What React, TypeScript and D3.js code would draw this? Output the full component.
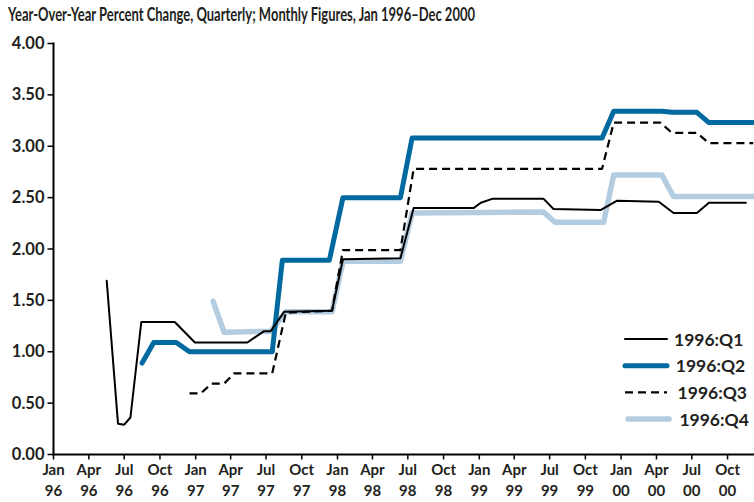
import { scaleTime, scaleLinear, line, timeParse, timeFormat, timeMonth } from "d3";

const width = 754;
const height = 502;
const x0 = 53.5;
const yTop = 43.5;
const yBottom = 454.5;

const titleText =
  "Year-Over-Year Percent Change, Quarterly; Monthly Figures, Jan 1996\u2013Dec 2000";

const yTickValues = [0, 0.5, 1, 1.5, 2, 2.5, 3, 3.5, 4];

// [date, percent]
const q1: [string, number][] = [
  ["1996-05-17", 1.69],
  ["1996-06-15", 0.3],
  ["1996-07-01", 0.29],
  ["1996-07-17", 0.36],
  ["1996-08-14", 1.29],
  ["1996-11-08", 1.29],
  ["1996-12-30", 1.09],
  ["1997-05-14", 1.09],
  ["1997-06-10", 1.16],
  ["1997-06-26", 1.2],
  ["1997-07-13", 1.2],
  ["1997-08-17", 1.39],
  ["1997-12-18", 1.4],
  ["1998-01-15", 1.9],
  ["1998-06-12", 1.91],
  ["1998-07-16", 2.4],
  ["1998-12-18", 2.4],
  ["1999-01-05", 2.45],
  ["1999-02-05", 2.49],
  ["1999-06-15", 2.49],
  ["1999-07-11", 2.39],
  ["1999-11-10", 2.38],
  ["1999-12-22", 2.47],
  ["2000-04-07", 2.46],
  ["2000-05-15", 2.35],
  ["2000-07-14", 2.35],
  ["2000-08-14", 2.45],
  ["2000-11-17", 2.45],
];

const q2: [string, number][] = [
  ["1996-08-16", 0.89],
  ["1996-09-15", 1.09],
  ["1996-11-12", 1.09],
  ["1996-12-16", 1.0],
  ["1997-07-17", 1.0],
  ["1997-08-12", 1.89],
  ["1997-12-11", 1.89],
  ["1998-01-15", 2.5],
  ["1998-06-12", 2.5],
  ["1998-07-12", 3.08],
  ["1999-11-13", 3.08],
  ["1999-12-13", 3.34],
  ["2000-04-15", 3.34],
  ["2000-05-11", 3.33],
  ["2000-07-14", 3.33],
  ["2000-08-14", 3.23],
  ["2000-12-06", 3.23],
];

const q3: [string, number][] = [
  ["1996-12-16", 0.595],
  ["1997-01-14", 0.595],
  ["1997-02-11", 0.69],
  ["1997-03-15", 0.69],
  ["1997-04-10", 0.79],
  ["1997-07-17", 0.79],
  ["1997-08-21", 1.38],
  ["1997-12-18", 1.4],
  ["1998-01-15", 1.99],
  ["1998-06-12", 1.99],
  ["1998-07-16", 2.78],
  ["1999-11-13", 2.78],
  ["1999-12-13", 3.23],
  ["2000-04-11", 3.23],
  ["2000-05-11", 3.13],
  ["2000-07-14", 3.13],
  ["2000-08-14", 3.03],
  ["2000-12-06", 3.03],
];

const q4: [string, number][] = [
  ["1997-02-15", 1.49],
  ["1997-03-15", 1.19],
  ["1997-07-13", 1.2],
  ["1997-08-21", 1.39],
  ["1997-12-18", 1.39],
  ["1998-01-15", 1.88],
  ["1998-06-12", 1.88],
  ["1998-07-12", 2.35],
  ["1999-06-15", 2.36],
  ["1999-07-15", 2.26],
  ["1999-11-17", 2.26],
  ["1999-12-13", 2.72],
  ["2000-04-15", 2.72],
  ["2000-05-15", 2.51],
  ["2000-12-06", 2.51],
];

const seriesNames = ["1996:Q1", "1996:Q2", "1996:Q3", "1996:Q4"];
const seriesData = [q1, q2, q3, q4];

const styles = [
  { stroke: "#000000", width: 2, dash: "" },
  { stroke: "#006aa0", width: 5, dash: "" },
  { stroke: "#000000", width: 2.2, dash: "8,5" },
  { stroke: "#b3cce0", width: 5.5, dash: "" },
];

// drawn bottom to top
const drawOrder = [3, 1, 2, 0];

const parse = timeParse("%Y-%m-%d");
const fmtMonth = timeFormat("%b");
const fmtYear = timeFormat("%y");
const fmtY = (v: number) => v.toFixed(2);

const font = "Lato, 'Open Sans', sans-serif";

const App = () => {
  const xScale = scaleTime()
    .domain([new Date(1996, 0, 1), new Date(2001, 0, 1)])
    .range([x0, x0 + 60 * 11.83]);
  const yScale = scaleLinear().domain([0, 4]).range([yBottom, yTop]);

  const lineGen = line<[string, number]>()
    .x((d) => xScale(parse(d[0]) as Date))
    .y((d) => yScale(d[1]));

  const xTicks = timeMonth.every(3)!.range(new Date(1996, 0, 1), new Date(2000, 10, 1));

  return (
    <div style={{ position: "absolute", left: 0, top: 0 }}>
      <svg width={width} height={height} style={{ display: "block", background: "#fff" }}>
        <text
          x={8}
          y={21}
          fontFamily={font}
          fontWeight={700}
          fontSize={18}
          fill="#231f20"
          textLength={467}
          lengthAdjust="spacingAndGlyphs"
        >
          {titleText}
        </text>

        {/* y axis */}
        {yTickValues.map((t, i) => (
          <g key={i} transform={`translate(0,${yScale(t)})`}>
            <line x1={x0 - 6} x2={x0} stroke="#000" strokeWidth={1.5} />
            <text
              x={x0 - 9}
              dy={5.5}
              textAnchor="end"
              fontFamily={font}
              fontWeight={700}
              fontSize={16.5}
              fill="#231f20"
            >
              {fmtY(t)}
            </text>
          </g>
        ))}
        <line x1={x0} x2={x0} y1={yTop - 1} y2={yBottom + 1} stroke="#000" strokeWidth={2} />

        {/* x axis */}
        {xTicks.map((d, i) => (
          <g key={i} transform={`translate(${xScale(d)},${yBottom})`}>
            <line y1={0} y2={5} stroke="#000" strokeWidth={1.5} />
            <text
              y={20}
              textAnchor="middle"
              fontFamily={font}
              fontWeight={700}
              fontSize={15}
              fill="#231f20"
            >
              {fmtMonth(d)}
            </text>
            <text
              y={41}
              textAnchor="middle"
              fontFamily={font}
              fontWeight={700}
              fontSize={15}
              fill="#231f20"
            >
              {fmtYear(d)}
            </text>
          </g>
        ))}
        <line x1={x0 - 1} x2={width} y1={yBottom} y2={yBottom} stroke="#000" strokeWidth={2.2} />

        {/* series */}
        {drawOrder.map((k) => (
          <path
            key={k}
            d={lineGen(seriesData[k]) || ""}
            fill="none"
            stroke={styles[k].stroke}
            strokeWidth={styles[k].width}
            strokeDasharray={styles[k].dash || undefined}
            strokeLinejoin="round"
            strokeLinecap={styles[k].dash ? "butt" : "round"}
          />
        ))}

        {/* legend */}
        {seriesNames.map((name, i) => {
          const ly = 339 + i * 26.7;
          return (
            <g key={name} transform={`translate(625,${ly})`}>
              <line
                x1={i === 3 ? 3 : 0}
                x2={i === 3 ? 44 : 42}
                stroke={styles[i].stroke}
                strokeWidth={styles[i].width}
                strokeDasharray={styles[i].dash || undefined}
                strokeLinecap={styles[i].dash ? "butt" : "round"}
              />
              <text
                x={49 + i * 1.8}
                dy={6.5}
                fontFamily={font}
                fontWeight={700}
                fontSize={17.5}
                fill="#231f20"
              >
                {name}
              </text>
            </g>
          );
        })}
      </svg>
    </div>
  );
};

export default App;
